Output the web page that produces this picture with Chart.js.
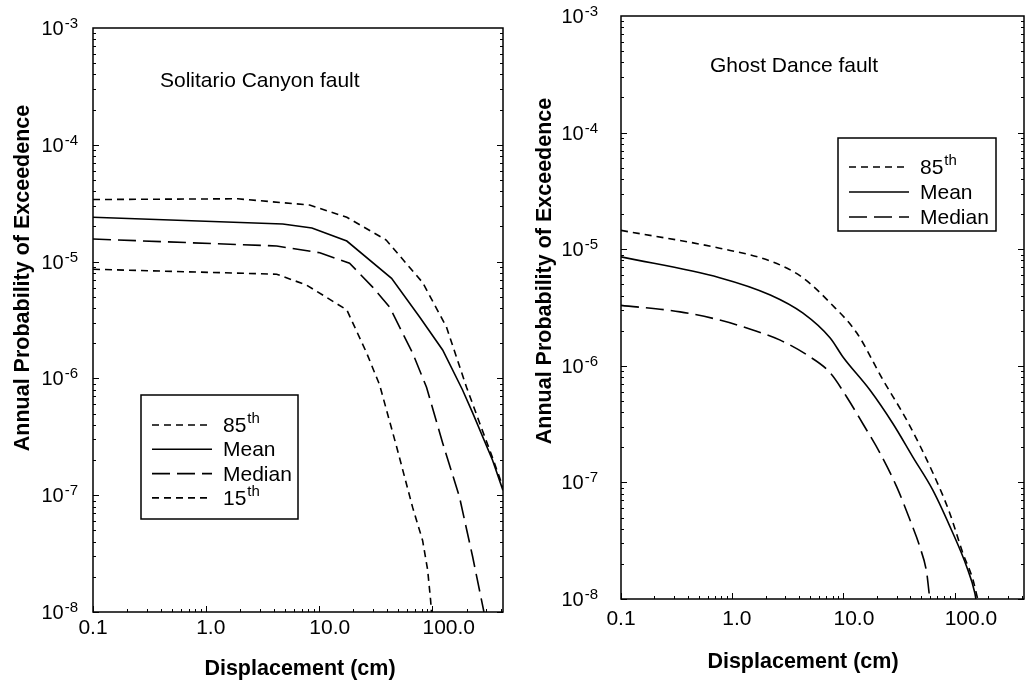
<!DOCTYPE html>
<html>
<head>
<meta charset="utf-8">
<title>Annual Probability of Exceedence</title>
<script src="https://cdn.jsdelivr.net/npm/chart.js@4.4.1/dist/chart.umd.min.js"></script>
<style>
  html, body { margin: 0; padding: 0; background: #fff; }
  canvas { position: absolute; top: 0; }
  #solitario { left: 0; }
  #ghostDance { left: 520px; }
</style>
</head>
<body>
<canvas id="solitario" width="520" height="683"></canvas>
<canvas id="ghostDance" width="505" height="683"></canvas>
<script>
// ticks shared by both panels
const xTickValues = [0.1, 1, 10, 100];
const xTickLabels = ['0.1', '1.0', '10.0', '100.0'];
const yTickExponents = [-3, -4, -5, -6, -7, -8];

// Solitario Canyon fault (displacement in cm, annual probability)
const sc85X = [0.1, 1.9, 8.2, 17.5, 39, 82, 133, 200, 261, 339, 420];
const sc85Y = [3.4e-5, 3.45e-5, 3.05e-5, 2.4e-5, 1.53e-5, 6.6e-6, 2.75e-6, 8.4e-7, 4.15e-7, 2.1e-7, 1.17e-7];
const scMeanX = [0.1, 4.75, 8.6, 17.5, 43.5, 77, 123, 184, 226, 339, 420];
const scMeanY = [2.4e-5, 2.1e-5, 1.94e-5, 1.5e-5, 7.2e-6, 3.36e-6, 1.75e-6, 8.0e-7, 5.1e-7, 2.0e-7, 1.1e-7];
const scMedianX = [0.1, 4.2, 10.1, 18.5, 29.6, 41.8, 66.7, 88.6, 123, 173, 226, 271, 285];
const scMedianY = [1.56e-5, 1.36e-5, 1.19e-5, 9.7e-6, 6.05e-6, 4.08e-6, 1.65e-6, 8.4e-7, 2.8e-7, 9.7e-8, 3.0e-8, 1.27e-8, 1.0e-8];
const sc15X = [0.1, 4.2, 7.7, 17.5, 26.2, 34.1, 48.2, 66.7, 81.8, 90.6, 96.2, 98];
const sc15Y = [8.6e-6, 7.8e-6, 6.3e-6, 3.86e-6, 1.65e-6, 8.8e-7, 2.6e-7, 7.9e-8, 4.1e-8, 2.3e-8, 1.27e-8, 1.0e-8];

// Ghost Dance fault
const gd85X = [0.1, 0.77, 2.3, 4.3, 7.6, 13.2, 22.6, 37.2, 63.6, 90, 118, 146, 161];
const gd85Y = [1.45e-5, 1.02e-5, 7.8e-6, 5.7e-6, 3.46e-6, 1.91e-6, 7.6e-7, 3.4e-7, 1.21e-7, 5.5e-8, 2.5e-8, 1.46e-8, 1.0e-8];
const gdMeanX = [0.1, 0.77, 2.2, 4.3, 7.6, 9.9, 17.3, 27.8, 42.1, 63.6, 96, 128, 152, 155];
const gdMeanY = [8.6e-6, 5.7e-6, 4.05e-6, 2.84e-6, 1.73e-6, 1.19e-6, 6.2e-7, 3.2e-7, 1.65e-7, 8.6e-8, 3.7e-8, 1.9e-8, 1.12e-8, 1.0e-8];
const gdMedianX = [0.1, 0.34, 0.77, 1.53, 2.7, 4.7, 7.6, 10.7, 14.9, 21.2, 30.2, 39.5, 48.6, 56.1, 58.5, 59.7];
const gdMedianY = [3.3e-6, 2.9e-6, 2.47e-6, 2.03e-6, 1.66e-6, 1.24e-6, 8.7e-7, 5.4e-7, 3.2e-7, 1.8e-7, 9.1e-8, 4.8e-8, 2.8e-8, 1.67e-8, 1.19e-8, 1.0e-8];

const FONT = "'Liberation Sans', Arial, sans-serif";
const dashShort = [7, 5];
const dashLong = [18, 7];

function series(label, xs, ys, dash, smooth) {
    return {
        label: label,
        data: xs.map((x, i) => ({ x: x, y: ys[i] })),
        borderColor: '#000',
        borderWidth: 1.6,
        borderDash: dash,
        pointRadius: 0,
        fill: false,
        tension: smooth ? 0.4 : 0,
        cubicInterpolationMode: smooth ? 'monotone' : 'default'
    };
}

// writes "85th" style labels with a raised suffix
function supText(ctx, text, x, y, size) {
    const m = /^(\d+)(th)$/.exec(text);
    ctx.font = size + 'px ' + FONT;
    if (!m) { ctx.fillText(text, x, y); return; }
    ctx.fillText(m[1], x, y);
    const w = ctx.measureText(m[1]).width;
    ctx.font = (size - 6) + 'px ' + FONT;
    ctx.fillText(m[2], x + w + 1, y - 9);
}

// frame, inward ticks, labels, titles and legend
const axisFrame = {
    id: 'axisFrame',
    afterDraw(chart, args, opts) {
        const { ctx, chartArea: a, scales: { x, y } } = chart;
        ctx.save();
        ctx.strokeStyle = '#000';
        ctx.fillStyle = '#000';

        ctx.lineWidth = 1.5;
        ctx.strokeRect(a.left, a.top, a.right - a.left, a.bottom - a.top);

        ctx.lineWidth = 1;
        ctx.beginPath();
        for (let e = -1; e <= 2; e++) {
            for (let m = 1; m <= 9; m++) {
                const v = m * Math.pow(10, e);
                if (v < x.min || v > x.max) continue;
                const px = Math.round(x.getPixelForValue(v)) + 0.5;
                const len = m === 1 ? 6 : 3;
                ctx.moveTo(px, a.bottom);
                ctx.lineTo(px, a.bottom - len);
            }
        }
        for (let e = -8; e < -3; e++) {
            for (let m = 1; m <= 9; m++) {
                const v = m * Math.pow(10, e);
                const py = Math.round(y.getPixelForValue(v)) + 0.5;
                const len = m === 1 ? 6 : 3;
                ctx.moveTo(a.left, py);
                ctx.lineTo(a.left + len, py);
                ctx.moveTo(a.right, py);
                ctx.lineTo(a.right - len, py);
            }
        }
        ctx.stroke();

        // x tick labels
        ctx.font = '21px ' + FONT;
        ctx.textBaseline = 'alphabetic';
        xTickValues.forEach((v, i) => {
            const px = x.getPixelForValue(v);
            if (i === 0) {
                ctx.textAlign = 'center';
                ctx.fillText(xTickLabels[i], px, opts.xLabelBaseline);
            } else {
                ctx.textAlign = 'left';
                ctx.fillText(xTickLabels[i], px - 10, opts.xLabelBaseline);
            }
        });

        // y tick labels as powers of ten
        ctx.textAlign = 'right';
        yTickExponents.forEach(e => {
            const py = y.getPixelForValue(Math.pow(10, e));
            const exp = String(e);
            ctx.font = '15px ' + FONT;
            ctx.fillText(exp, opts.yLabelRight, py);
            const ew = ctx.measureText(exp).width;
            ctx.font = '20px ' + FONT;
            ctx.fillText('10', opts.yLabelRight - ew - 1, py + 7);
        });

        // axis titles
        ctx.font = 'bold 21.5px ' + FONT;
        ctx.textAlign = 'center';
        ctx.fillText('Displacement (cm)', opts.xTitle.x, opts.xTitle.y);
        ctx.save();
        ctx.translate(opts.yTitle.x, opts.yTitle.y);
        ctx.rotate(-Math.PI / 2);
        ctx.textBaseline = 'middle';
        ctx.fillText('Annual Probability of Exceedence', 0, 0);
        ctx.restore();

        // fault name
        ctx.font = '21px ' + FONT;
        ctx.textAlign = 'left';
        ctx.fillText(opts.note.text, opts.note.x, opts.note.y);

        // legend box
        const lg = opts.legend;
        ctx.fillStyle = '#fff';
        ctx.fillRect(lg.x, lg.y, lg.w, lg.h);
        ctx.fillStyle = '#000';
        ctx.lineWidth = 1.5;
        ctx.strokeRect(lg.x, lg.y, lg.w, lg.h);
        chart.data.datasets.forEach((ds, i) => {
            const ry = lg.y + lg.first + i * lg.step;
            ctx.save();
            ctx.lineWidth = ds.borderWidth;
            ctx.setLineDash(ds.borderDash || []);
            ctx.beginPath();
            ctx.moveTo(lg.x + 11, ry);
            ctx.lineTo(lg.x + 71, ry);
            ctx.stroke();
            ctx.restore();
            ctx.textAlign = 'left';
            supText(ctx, ds.label, lg.x + 82, ry + 7, 21);
        });

        ctx.restore();
    }
};

function makePanel(id, datasets, padding, frame) {
    return new Chart(document.getElementById(id), {
        type: 'line',
        data: { datasets: datasets },
        options: {
            responsive: false,
            animation: false,
            events: [],
            layout: { padding: padding },
            scales: {
                x: { type: 'logarithmic', min: 0.1, max: 420, display: false },
                y: { type: 'logarithmic', min: 1e-8, max: 1e-3, display: false }
            },
            plugins: {
                legend: { display: false },
                tooltip: { enabled: false },
                axisFrame: frame
            }
        },
        plugins: [axisFrame]
    });
}

makePanel('solitario', [
    series('85th', sc85X, sc85Y, dashShort, false),
    series('Mean', scMeanX, scMeanY, [], false),
    series('Median', scMedianX, scMedianY, dashLong, false),
    series('15th', sc15X, sc15Y, dashShort, false)
], { left: 93, top: 28, right: 17, bottom: 71 }, {
    xLabelBaseline: 634,
    yLabelRight: 78,
    xTitle: { x: 300, y: 675 },
    yTitle: { x: 23, y: 278 },
    note: { text: 'Solitario Canyon fault', x: 160, y: 87 },
    legend: { x: 141, y: 395, w: 157, h: 124, first: 30, step: 24.3 }
});

makePanel('ghostDance', [
    series('85th', gd85X, gd85Y, dashShort, true),
    series('Mean', gdMeanX, gdMeanY, [], true),
    series('Median', gdMedianX, gdMedianY, dashLong, true)
], { left: 101, top: 16, right: 1, bottom: 84 }, {
    xLabelBaseline: 625,
    yLabelRight: 78,
    xTitle: { x: 283, y: 668 },
    yTitle: { x: 25, y: 271 },
    note: { text: 'Ghost Dance fault', x: 190, y: 72 },
    legend: { x: 318, y: 138, w: 158, h: 93, first: 29, step: 25 }
});
</script>
</body>
</html>
